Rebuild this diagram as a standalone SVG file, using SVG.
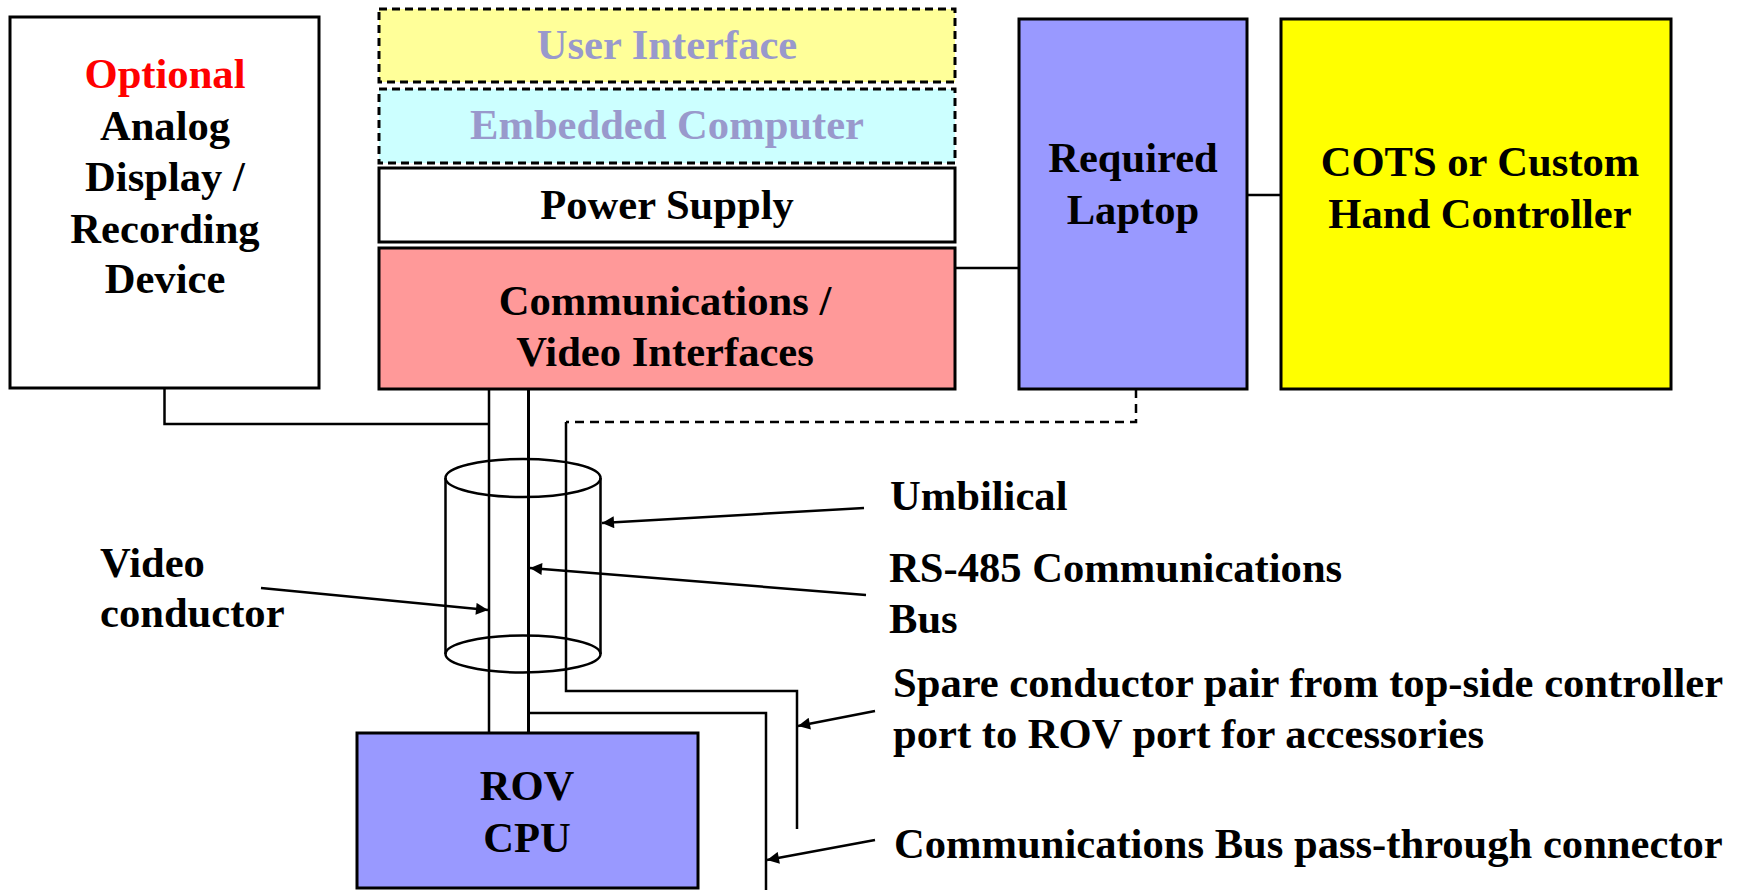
<svg xmlns="http://www.w3.org/2000/svg" width="1746" height="890" viewBox="0 0 1746 890">
<defs>
<style>
.box{stroke:#000;stroke-width:3}
.dash{stroke:#000;stroke-width:3;stroke-dasharray:8 5}
.t{font-family:"Liberation Serif","Times New Roman",serif;font-weight:bold;font-size:42.6px;fill:#000}
.c{text-anchor:middle}
.ln{fill:none;stroke:#000;stroke-width:2.5}
</style>
<marker id="ah" viewBox="0 0 10 10" refX="10" refY="5" markerWidth="16" markerHeight="12" markerUnits="userSpaceOnUse" orient="auto">
<path d="M0,0 L10,5 L0,10 z" fill="#000"/>
</marker>
</defs>
<rect width="1746" height="890" fill="#fff"/>

<g id="connectors">
<polyline class="ln" points="164.5,389 164.5,424 489,424"/>
<line class="ln" x1="489" y1="389" x2="489" y2="733" stroke-width="2"/>
<line class="ln" x1="528.5" y1="389" x2="528.5" y2="733" style="stroke-width:3"/>
<polyline class="ln" points="1136,389 1136,422 566,422" style="stroke-dasharray:9 6"/>
<polyline class="ln" points="566,422 566,691 797,691 797,829"/>
<polyline class="ln" points="528.5,713 766,713 766,890"/>
<line class="ln" x1="955" y1="268" x2="1019" y2="268"/>
<line class="ln" x1="1247" y1="195" x2="1281" y2="195"/>
</g>

<g id="umbilical">
<path class="ln" d="M445.5,478 L445.5,654 M600.5,478 L600.5,654"/>
<ellipse class="ln" cx="523" cy="478" rx="77.5" ry="19"/>
<ellipse class="ln" cx="523" cy="654" rx="77.5" ry="18.5"/>
</g>

<g id="optional-device">
<rect class="box" x="10" y="17" width="309" height="371" fill="#fff"/>
<text class="t c" x="165" y="88" style="fill:#f00">Optional</text>
<text class="t c" x="165" y="140">Analog</text>
<text class="t c" x="165" y="191">Display /</text>
<text class="t c" x="165" y="243">Recording</text>
<text class="t c" x="165" y="293">Device</text>
</g>

<g id="user-interface">
<rect class="dash" x="379" y="9" width="576" height="73" fill="#ffff99"/>
<text class="t c" x="667" y="59" style="fill:#9999cc">User Interface</text>
</g>

<g id="embedded-computer">
<rect class="dash" x="379" y="89" width="576" height="74" fill="#ccffff"/>
<text class="t c" x="667" y="139" style="fill:#9999cc">Embedded Computer</text>
</g>

<g id="power-supply">
<rect class="box" x="379" y="168" width="576" height="74" fill="#fff"/>
<text class="t c" x="667" y="219">Power Supply</text>
</g>

<g id="comms">
<rect class="box" x="379" y="248" width="576" height="141" fill="#ff9999"/>
<text class="t c" x="665" y="315">Communications /</text>
<text class="t c" x="665" y="366">Video Interfaces</text>
</g>

<g id="laptop">
<rect class="box" x="1019" y="19" width="228" height="370" fill="#9999ff"/>
<text class="t c" x="1133" y="172">Required</text>
<text class="t c" x="1133" y="224">Laptop</text>
</g>

<g id="hand-controller">
<rect class="box" x="1281" y="19" width="390" height="370" fill="#ffff00"/>
<text class="t c" x="1480" y="176">COTS or Custom</text>
<text class="t c" x="1480" y="228">Hand Controller</text>
</g>

<g id="rov-cpu">
<rect class="box" x="357" y="733" width="341" height="155" fill="#9999ff"/>
<text class="t c" x="527" y="800">ROV</text>
<text class="t c" x="527" y="852">CPU</text>
</g>

<g id="labels">
<line class="ln" x1="864" y1="508" x2="602" y2="523" marker-end="url(#ah)"/>
<text class="t" x="890" y="510">Umbilical</text>
<line class="ln" x1="866" y1="595" x2="530" y2="568" marker-end="url(#ah)"/>
<text class="t" x="889" y="582">RS-485 Communications</text>
<text class="t" x="889" y="633">Bus</text>
<line class="ln" x1="261" y1="588" x2="488" y2="610" marker-end="url(#ah)"/>
<text class="t" x="100" y="577">Video</text>
<text class="t" x="100" y="627">conductor</text>
<line class="ln" x1="875" y1="711" x2="798" y2="726" marker-end="url(#ah)"/>
<text class="t" x="893" y="697">Spare conductor pair from top-side controller</text>
<text class="t" x="893" y="748">port to ROV port for accessories</text>
<line class="ln" x1="875" y1="840" x2="767" y2="860" marker-end="url(#ah)"/>
<text class="t" x="894" y="858">Communications Bus pass-through connector</text>
</g>
</svg>
